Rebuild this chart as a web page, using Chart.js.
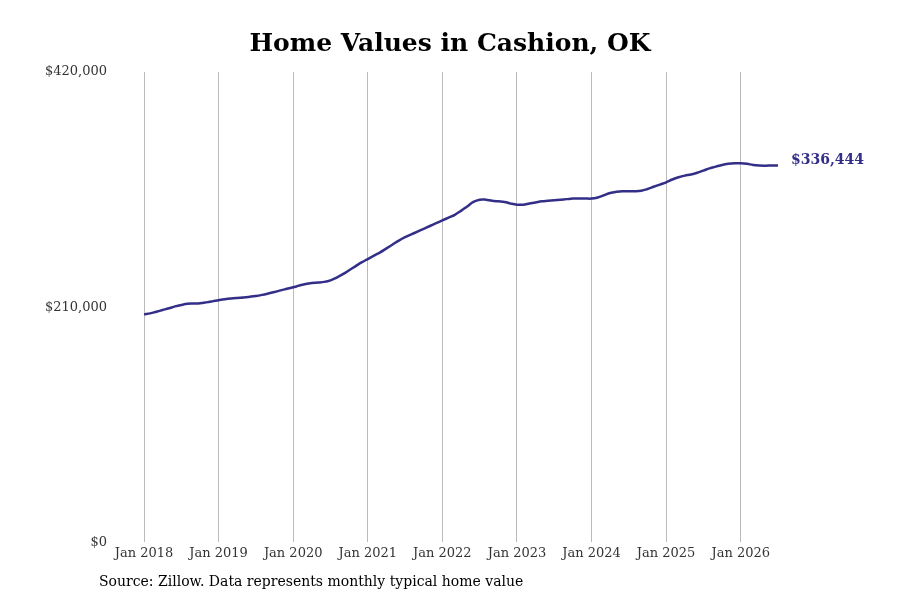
<!DOCTYPE html>
<html>
<head>
<meta charset="utf-8">
<script src="https://cdn.jsdelivr.net/npm/chart.js@4"></script>
<style>
  body { margin: 0; background: #fff; }
  #wrap { position: relative; width: 900px; height: 600px; }
  #title { position: absolute; top: 28px; width: 100%; text-align: center;
           font: bold 25px "DejaVu Serif", serif; color: #000; }
  #source { position: absolute; left: 99px; top: 573px;
            font: 14px "DejaVu Serif", serif; color: #000; }
  canvas { position: absolute; left: 0; top: 0; }
</style>
</head>
<body>
<div id="wrap">
  <canvas id="chart" width="900" height="600"></canvas>
  <div id="title">Home Values in Cashion, OK</div>
  <div id="source">Source: Zillow. Data represents monthly typical home value</div>
</div>
<script>
const MONTHS = ['Jan','Feb','Mar','Apr','May','Jun','Jul','Aug','Sep','Oct','Nov','Dec'];
const YEARS = [2018, 2019, 2020, 2021, 2022, 2023, 2024, 2025, 2026];

// monthly typical home value, thousands of dollars, Jan 2018 .. Jul 2026
const values2018 = [203.6,204.5,206,207.5,209,210.7,212,213,213.3,213.6,214.3,215.2];
const values2019 = [216.2,217.1,217.8,218.3,218.7,219.3,220,221,222.2,223.5,225,226.4];
const values2020 = [227.8,229.3,230.7,231.6,232,232.6,234,236.5,239.5,243,246.5,250];
const values2021 = [253,256,259,262.5,266,269.5,272.5,275,277.5,280,282.5,285];
const values2022 = [287.5,290,292.5,296,300,304,306,306,305,304.5,304,302.5];
const values2023 = [301.5,301.5,302.5,303.5,304.5,305,305.5,306,306.5,307,307,307];
const values2024 = [307,308,310,312,313,313.5,313.5,313.5,314,315.5,317.5,319.5];
const values2025 = [321.5,324,326,327.5,328.5,330,332,334,335.5,337,338,338.5];
const values2026 = [338.5,338,337,336.5,336.4,336.5,336.444];

const yTicks = [0, 210000, 420000];
const lineColor = '#332e87';

const values = [].concat(values2018, values2019, values2020, values2021, values2022,
  values2023, values2024, values2025, values2026).map(v => Math.round(v * 1000));
const labels = values.map((_, i) => MONTHS[i % 12] + ' ' + YEARS[Math.floor(i / 12)]);

const fmt = v => '$' + v.toLocaleString('en-US');

const endLabel = {
  id: 'endLabel',
  afterDatasetsDraw(chart) {
    const pts = chart.getDatasetMeta(0).data;
    const p = pts[pts.length - 1];
    const ctx = chart.ctx;
    ctx.save();
    ctx.font = 'bold 14px "DejaVu Serif", serif';
    ctx.fillStyle = lineColor;
    ctx.textBaseline = 'middle';
    ctx.fillText(fmt(values[values.length - 1]), p.x + 13, p.y - 5);
    ctx.restore();
  }
};

new Chart(document.getElementById('chart'), {
  type: 'line',
  data: { labels, datasets: [{ data: values, borderColor: lineColor, borderWidth: 2.5,
    pointRadius: 0, tension: 0.4, fill: false }] },
  options: {
    responsive: false, animation: false,
    layout: { padding: { left: 34, right: 122, top: 72, bottom: 36 } },
    plugins: { legend: { display: false }, tooltip: { enabled: false } },
    scales: {
      x: {
        offset: false,
        grid: { color: c => (c.index % 12 === 0 ? '#bbbbbb' : 'rgba(0,0,0,0)'), drawTicks: false },
        border: { display: false },
        ticks: { autoSkip: false, maxRotation: 0, padding: 3, color: '#333',
          font: { family: '"DejaVu Serif", serif', size: 13 },
          callback: (v, i) => (i % 12 === 0 ? labels[i] : '') }
      },
      y: {
        min: 0, max: 420000,
        afterBuildTicks: s => { s.ticks = yTicks.map(v => ({ value: v })); },
        afterFit: s => { s.width = 110; },
        grid: { display: false },
        border: { display: false },
        ticks: { padding: 29, color: '#333',
          font: { family: '"DejaVu Serif", serif', size: 13 },
          callback: v => fmt(v) }
      }
    }
  },
  plugins: [endLabel]
});
</script>
</body>
</html>
